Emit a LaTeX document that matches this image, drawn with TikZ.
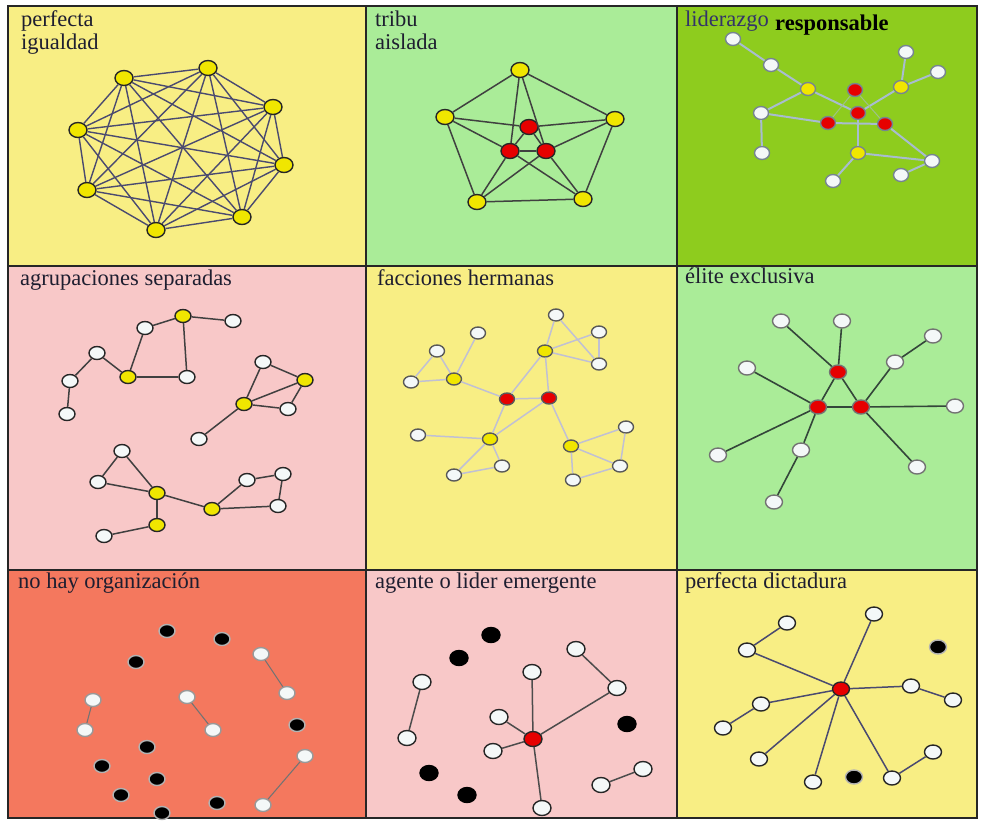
\documentclass[tikz,border=0pt]{standalone}
\usepackage{fontspec}
\setmainfont{Liberation Serif}
\usetikzlibrary{shapes.geometric}

\begin{document}
\begin{tikzpicture}[x=1pt,y=-1pt,
    dot/.style={ellipse,draw=black!85,line width=1.4pt,minimum width=16pt,minimum height=13pt,inner sep=0pt},
    yn/.style={dot,fill=yelnode},
    rn/.style={dot,fill=rednode},
    wn/.style={dot,fill=whnode},
    bn/.style={dot,fill=black,draw=white!70!black},
    title/.style={anchor=base west,inner sep=0pt,font=\fontsize{22.5}{20}\selectfont,text=inkc}]
    \definecolor{paleyel}{HTML}{F8EE84}
    \definecolor{palegrn}{HTML}{AAEC98}
    \definecolor{leafgrn}{HTML}{8ECC1E}
    \definecolor{palepnk}{HTML}{F8C8C8}
    \definecolor{salmon}{HTML}{F4785E}
    \definecolor{yelnode}{HTML}{F0E600}
    \definecolor{rednode}{HTML}{E60000}
    \definecolor{whnode}{HTML}{F4F8F8}
    \definecolor{inkc}{HTML}{1E1E30}
    \definecolor{slate}{HTML}{4A4A70}
    \definecolor{haze}{HTML}{A8BCD0}
    \definecolor{mist}{HTML}{C0C0D4}
    \definecolor{moss}{HTML}{34463A}
    \useasboundingbox (0,0) rectangle (984,822);
    \fill[white] (0,0) rectangle (984,822);
    % panels
    \fill[paleyel] (8,6) rectangle (366,266);
    \fill[palegrn] (366,6) rectangle (677,266);
    \fill[leafgrn] (677,6) rectangle (977,266);
    \fill[palepnk] (8,266) rectangle (366,570);
    \fill[paleyel] (366,266) rectangle (677,570);
    \fill[palegrn] (677,266) rectangle (977,570);
    \fill[salmon] (8,570) rectangle (366,818);
    \fill[palepnk] (366,570) rectangle (677,818);
    \fill[paleyel] (677,570) rectangle (977,818);
    \draw[line width=1.8pt,black!85] (8,6) rectangle (977,818)
        (366,6) -- (366,818) (677,6) -- (677,818)
        (8,266) -- (977,266) (8,570) -- (977,570);

    % perfecta igualdad
    \node[title] (pt1) at (21,26) {perfecta};
    \node[title] (pt2) at (21,49) {igualdad};
    \foreach \n/\x/\y in {1/124/78,2/208/68,3/273/107,4/284/165,5/242/217,6/156/230,7/87/190,8/78/130}
        \node[yn,minimum width=18pt,minimum height=15pt] (p\n) at (\x,\y) {};
    \foreach \i [evaluate=\i as \k using int(\i+1)] in {1,...,7}
        \foreach \j in {\k,...,8} \draw[slate,line width=1.4pt] (p\i) -- (p\j);

    % tribu aislada
    \node[title] (tt1) at (375,26) {tribu};
    \node[title] (tt2) at (375,49) {aislada};
    \foreach \n/\s/\x/\y in {T/yn/520/70,L/yn/445/117,R/yn/615/119,BL/yn/477/202,BR/yn/583/199,
        X/rn/529/127,Y/rn/510/151,Z/rn/546/151}
        \node[\s,minimum width=18pt,minimum height=15pt] (t\n) at (\x,\y) {};
    \foreach \a/\b in {T/L,T/R,L/BL,R/BR,BL/BR,L/X,X/R,L/Y,T/Y,T/Z,Y/BL,Y/BR,Z/BR,R/Z,Z/BL,X/Y,X/Z,Y/Z}
        \draw[black!75,line width=1.5pt] (t\a) -- (t\b);

    % liderazgo responsable
    \node[title,text=black!65!blue!60!gray] (lt1) at (685,26) {liderazgo};
    \node[title,text=black,font=\fontsize{22.5}{20}\selectfont\bfseries] (lt2) at (775,30) {responsable};
    \foreach \n/\s/\x/\y in {w1/wn/733/39,w2/wn/771/65,y1/yn/808/89,w3/wn/761/113,w4/wn/762/153,
        r1/rn/855/90,r2/rn/858/113,r3/rn/828/123,r4/rn/885/124,y2/yn/901/87,w5/wn/906/52,
        w6/wn/938/72,y3/yn/858/153,w7/wn/932/161,w8/wn/901/175,w9/wn/833/181}
        \node[\s,draw=haze!70!black,minimum width=15pt,minimum height=13pt] (l\n) at (\x,\y) {};
    \foreach \a/\b in {w1/w2,w2/y1,y1/w3,w3/w4,w3/r3,y1/r2,r3/r4,r2/y3,y2/w5,y2/w6,y2/r2,
        y3/w7,y3/w9,w7/w8,r4/w7}
        \draw[haze,line width=2pt] (l\a) -- (l\b);
    \foreach \a/\b in {r1/r3,r1/r4}
        \draw[haze!60!leafgrn,line width=1pt] (l\a) -- (l\b);

    % agrupaciones separadas
    \node[title] (gt) at (20,285) {agrupaciones separadas};
    \foreach \n/\s/\x/\y in {y1/yn/183/316,w1/wn/145/328,w2/wn/233/321,w3/wn/97/353,y2/yn/128/377,
        w4/wn/187/377,w5/wn/70/381,w6/wn/67/414,w7/wn/263/362,y3/yn/305/380,y4/yn/244/404,
        w8/wn/288/409,w9/wn/199/439,w10/wn/122/451,w11/wn/98/482,y5/yn/157/493,w12/wn/247/480,
        w13/wn/283/474,w14/wn/278/506,y6/yn/212/509,y7/yn/157/525,w15/wn/104/536}
        \node[\s] (g\n) at (\x,\y) {};
    \foreach \a/\b in {y1/w1,y1/w2,y1/w4,w1/y2,y2/w4,y2/w3,w3/w5,w5/w6,w7/y3,w7/y4,y4/y3,y4/w8,
        w8/y3,y4/w9,w10/w11,w10/y5,w11/y5,y5/y7,y5/y6,y7/w15,y6/w12,w12/w13,w13/w14,w14/y6}
        \draw[black!75,line width=1.5pt] (g\a) -- (g\b);

    % facciones hermanas
    \node[title] (ft) at (377,285) {facciones hermanas};
    \foreach \n/\s/\x/\y in {w1/wn/556/315,w2/wn/599/332,y1/yn/545/351,w3/wn/599/364,w4/wn/478/333,
        w5/wn/437/351,y2/yn/454/379,w6/wn/411/382,r1/rn/507/399,r2/rn/549/398,w7/wn/418/435,
        y3/yn/490/439,w8/wn/502/466,w9/wn/454/475,w10/wn/626/427,y4/yn/571/446,w11/wn/620/466,
        w12/wn/573/480}
        \node[\s,draw=black!65,minimum width=15pt,minimum height=12pt] (f\n) at (\x,\y) {};
    \foreach \a/\b in {w1/y1,w1/w3,y1/w2,y1/w3,w2/w3,y1/r1,y1/r2,r1/r2,w4/y2,w5/y2,w5/w6,w6/y2,
        y2/r1,r1/y3,r2/y3,r2/y4,w7/y3,y3/w8,y3/w9,w8/w9,y4/w10,y4/w11,y4/w12,w10/w11,w11/w12}
        \draw[mist,line width=1.5pt] (f\a) -- (f\b);

    % elite exclusiva
    \node[title] (et) at (685,283) {élite exclusiva};
    \foreach \n/\s/\x/\y in {w1/wn/781/321,w2/wn/842/321,w3/wn/933/336,w4/wn/895/362,w5/wn/747/368,
        r1/rn/838/372,r2/rn/818/407,r3/rn/861/407,w6/wn/955/406,w7/wn/718/455,w8/wn/801/450,
        w9/wn/917/467,w10/wn/774/502}
        \node[\s,draw=black!55,minimum width=17pt,minimum height=14pt] (e\n) at (\x,\y) {};
    \foreach \a/\b in {w1/r1,w2/r1,r1/r2,r1/r3,r2/r3,w5/r2,w7/r2,r2/w8,w8/w10,r3/w4,w4/w3,r3/w6,r3/w9}
        \draw[moss,line width=1.6pt] (e\a) -- (e\b);

    % no hay organizacion
    \node[title] (nt) at (18,588) {no hay organización};
    \foreach \n/\x/\y in {1/167/631,2/222/639,3/136/662,4/297/725,5/147/747,6/102/766,7/157/779,
        8/121/795,9/217/803,10/162/813}
        \node[bn] (nb\n) at (\x,\y) {};
    \foreach \n/\x/\y in {1/261/654,2/287/693,3/93/700,4/85/730,5/187/697,6/213/730,7/305/756,8/263/805}
        \node[wn,draw=black!40] (nw\n) at (\x,\y) {};
    \foreach \a/\b in {1/2,3/4,5/6,7/8}
        \draw[black!55,line width=1.1pt] (nw\a) -- (nw\b);

    % agente o lider emergente
    \node[title] (at) at (375,588) {agente o lider emergente};
    \foreach \n/\x/\y in {1/491/635,2/459/658,3/627/724,4/429/773,5/467/795}
        \node[bn,draw=black,minimum width=18pt,minimum height=15pt] (ab\n) at (\x,\y) {};
    \foreach \n/\s/\x/\y in {w1/wn/422/682,w2/wn/407/738,w3/wn/532/672,w4/wn/576/649,w5/wn/617/688,
        w6/wn/499/717,w7/wn/493/751,r/rn/533/739,w8/wn/542/808,w9/wn/601/785,w10/wn/643/769}
        \node[\s,minimum width=18pt,minimum height=15pt] (a\n) at (\x,\y) {};
    \foreach \a/\b in {w1/w2,w3/r,w4/w5,w5/r,w6/r,w7/r,r/w8,w9/w10}
        \draw[black!70,line width=1.5pt] (a\a) -- (a\b);

    % perfecta dictadura
    \node[title] (dt) at (685,588) {perfecta dictadura};
    \foreach \n/\s/\x/\y in {w1/wn/787/623,w2/wn/874/614,w3/wn/747/650,b1/bn/938/647,r/rn/841/689,
        w4/wn/911/686,w5/wn/953/700,w6/wn/761/704,w7/wn/723/728,w8/wn/759/759,w9/wn/813/782,
        b2/bn/854/777,w10/wn/892/778,w11/wn/933/752}
        \node[\s,minimum width=17pt,minimum height=14pt] (d\n) at (\x,\y) {};
    \foreach \a/\b in {w1/w3,w3/r,w2/r,r/w4,w4/w5,r/w6,w6/w7,r/w8,r/w9,r/w10,w10/w11}
        \draw[slate,line width=1.5pt] (d\a) -- (d\b);
\end{tikzpicture}
\end{document}
